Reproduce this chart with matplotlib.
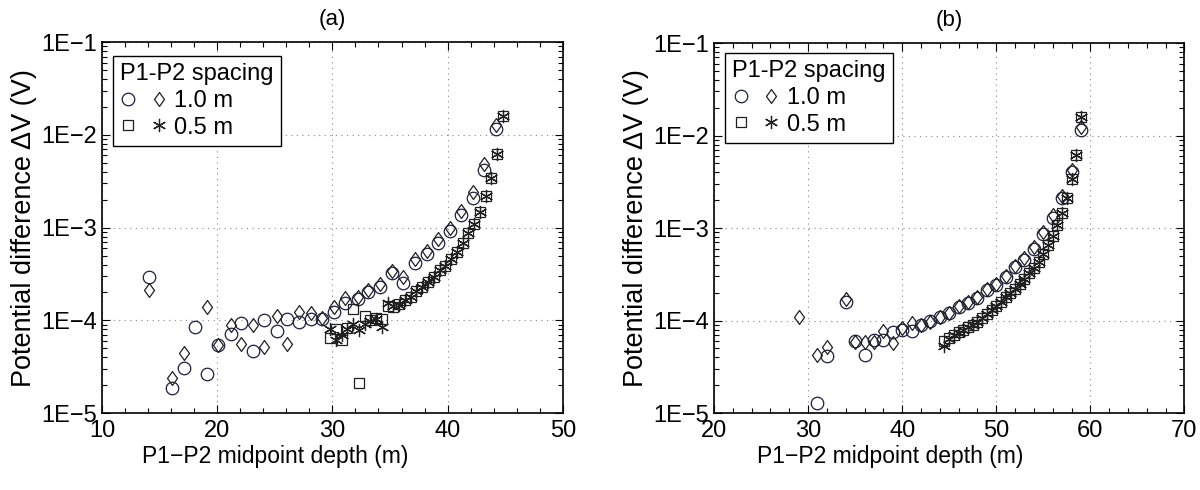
import matplotlib
matplotlib.use("Agg")
import matplotlib.pyplot as plt
from matplotlib.path import Path
from matplotlib.legend_handler import HandlerTuple
from matplotlib.ticker import MultipleLocator, LogLocator, FixedLocator, NullFormatter

plt.rcParams['font.family'] = ['Liberation Sans', 'DejaVu Sans']

# ---------------- (a) ----------------
a_x_circ = [14.1, 16.1, 17.1, 18.1, 19.1, 20.1, 21.2, 22.1, 23.1, 24.1, 25.2, 26.1, 27.1, 28.1, 29.1,
            30.1, 31.1, 32.2, 33.1, 34.1, 35.2, 36.1, 37.2, 38.2, 39.2, 40.2, 41.2, 42.2, 43.2, 44.2]
a_y_circ = [2.9e-4, 1.87e-5, 3.1e-5, 8.5e-5, 2.63e-5, 5.4e-5, 7.2e-5, 9.3e-5, 4.7e-5, 1.02e-4, 7.6e-5,
            1.04e-4, 9.6e-5, 1.03e-4, 1.03e-4, 1.24e-4, 1.55e-4, 1.7e-4, 2.0e-4, 2.3e-4, 3.2e-4, 2.54e-4,
            4.2e-4, 5.2e-4, 6.9e-4, 9.3e-4, 1.36e-3, 2.1e-3, 4.2e-3, 1.15e-2]
a_x_diam = [14.1, 16.1, 17.1, 19.1, 20.1, 21.2, 22.1, 23.1, 24.1, 25.2, 26.1, 27.1, 28.1, 29.1,
            30.1, 31.1, 32.2, 33.1, 34.1, 35.2, 36.1, 37.2, 38.2, 39.2, 40.2, 41.2, 42.2, 43.2, 44.2]
a_y_diam = [2.1e-4, 2.37e-5, 4.47e-5, 1.38e-4, 5.4e-5, 8.9e-5, 5.5e-5, 8.8e-5, 5.1e-5, 1.12e-4, 5.5e-5,
            1.23e-4, 1.2e-4, 1.05e-4, 1.38e-4, 1.74e-4, 1.8e-4, 2.1e-4, 2.45e-4, 3.4e-4, 2.95e-4,
            4.6e-4, 5.6e-4, 7.5e-4, 1.0e-3, 1.5e-3, 2.4e-3, 4.8e-3, 1.28e-2]
a_x_half = [29.8, 30.3, 30.8, 31.3, 31.8, 32.3, 32.8, 33.3, 33.8, 34.3,
            34.8, 35.3, 35.8, 36.3, 36.8, 37.3, 37.8, 38.3, 38.8, 39.3, 39.8,
            40.3, 40.8, 41.3, 41.8, 42.3, 42.8, 43.3, 43.8, 44.3, 44.8]
a_y_sq = [6.4e-5, 8.1e-5, 6.1e-5, 8.3e-5, 1.31e-4, 2.12e-5, 1.12e-4, 1.0e-4, 1.06e-4, 1.03e-4,
          1.42e-4, 1.40e-4, 1.5e-4, 1.66e-4, 1.8e-4, 2.05e-4, 2.3e-4, 2.6e-4, 2.95e-4, 3.5e-4, 3.9e-4,
          4.6e-4, 5.5e-4, 6.8e-4, 8.7e-4, 1.09e-3, 1.48e-3, 2.18e-3, 3.39e-3, 6.2e-3, 1.6e-2]
a_y_ast = [8.1e-5, 6.1e-5, 6.9e-5, 8.0e-5, 9.1e-5, 7.9e-5, 9.1e-5, 9.8e-5, 1.04e-4, 8.4e-5,
           1.55e-4, 1.42e-4, 1.48e-4, 1.66e-4, 1.8e-4, 2.05e-4, 2.3e-4, 2.6e-4, 2.95e-4, 3.5e-4, 3.9e-4,
           4.6e-4, 5.5e-4, 6.8e-4, 8.7e-4, 1.09e-3, 1.48e-3, 2.18e-3, 3.39e-3, 6.2e-3, 1.6e-2]

# ---------------- (b) ----------------
b_x_circ = [31, 32, 34, 35, 36, 37, 38, 39, 40, 41, 42, 43, 44, 45, 46, 47, 48, 49, 50,
            51, 52, 53, 54, 55, 56, 57, 58, 59]
b_y_circ = [1.3e-5, 4.1e-5, 1.6e-4, 6.0e-5, 4.2e-5, 6.1e-5, 6.1e-5, 7.6e-5, 7.9e-5, 7.8e-5,
            9.0e-5, 1.0e-4, 1.1e-4, 1.2e-4, 1.4e-4, 1.55e-4, 1.75e-4, 2.15e-4, 2.4e-4,
            2.95e-4, 3.8e-4, 4.5e-4, 6.0e-4, 8.7e-4, 1.3e-3, 2.1e-3, 4.0e-3, 1.15e-2]
b_x_diam = [29, 31, 32, 34, 35, 36, 37, 38, 39, 40, 41, 42, 43, 44, 45, 46, 47, 48, 49, 50,
            51, 52, 53, 54, 55, 56, 57, 58, 59]
b_y_diam = [1.1e-4, 4.2e-5, 5.2e-5, 1.73e-4, 5.8e-5, 5.8e-5, 5.8e-5, 7.8e-5, 5.7e-5, 8.4e-5,
            9.3e-5, 9.0e-5, 9.7e-5, 1.08e-4, 1.22e-4, 1.42e-4, 1.58e-4, 1.8e-4, 2.2e-4, 2.5e-4,
            3.05e-4, 3.9e-4, 4.7e-4, 6.3e-4, 9.0e-4, 1.4e-3, 2.2e-3, 4.3e-3, 1.25e-2]
b_x_half = [44.5, 45.0, 45.5, 46.0, 46.5, 47.0, 47.5, 48.0, 48.5, 49.0, 49.5, 50.0, 50.5, 51.0, 51.5,
            52.0, 52.5, 53.0, 53.5, 54.0, 54.5, 55.0, 55.5, 56.0, 56.5, 57.0, 57.5, 58.0, 58.5, 59.0]
b_y_sq = [6.0e-5, 6.5e-5, 7.0e-5, 7.5e-5, 8.0e-5, 8.5e-5, 9.0e-5, 9.6e-5, 1.07e-4, 1.18e-4, 1.3e-4,
          1.42e-4, 1.6e-4, 1.8e-4, 1.98e-4, 2.2e-4, 2.5e-4, 2.8e-4, 3.3e-4, 3.7e-4, 4.3e-4, 5.3e-4,
          6.6e-4, 8.3e-4, 1.08e-3, 1.45e-3, 2.1e-3, 3.4e-3, 6.1e-3, 1.6e-2]
b_y_ast = [5.3e-5, 6.4e-5, 7.0e-5, 7.4e-5, 8.0e-5, 8.5e-5, 9.0e-5, 9.6e-5, 1.07e-4, 1.18e-4, 1.3e-4,
           1.42e-4, 1.6e-4, 1.8e-4, 1.98e-4, 2.2e-4, 2.5e-4, 2.8e-4, 3.3e-4, 3.7e-4, 4.3e-4, 5.3e-4,
           6.6e-4, 8.3e-4, 1.08e-3, 1.45e-3, 2.1e-3, 3.4e-3, 6.1e-3, 1.6e-2]

y_ticks = [1e-5, 1e-4, 1e-3, 1e-2, 1e-1]
y_ticklabels = ['1E\u22125', '1E\u22124', '1E\u22123', '1E\u22122', '1E\u22121']

diamond = Path([(0, 1), (0.72, 0), (0, -1), (-0.72, 0), (0, 1)],
               [Path.MOVETO, Path.LINETO, Path.LINETO, Path.LINETO, Path.CLOSEPOLY])
asterisk = (6, 2, 0)

c_circ = '#1e1e40'
c_blk = '#202020'


def draw_panel(ax, xc, yc, xd, yd, xh, ysq, yast, xlim, title, leg_y):
    ax.plot(xc, yc, 'o', ms=9, mfc='none', mec=c_circ, mew=0.9, ls='none')
    ax.plot(xd, yd, marker=diamond, ms=10, mfc='none', mec=c_blk, mew=0.9, ls='none')
    ax.plot(xh, ysq, 's', ms=7.5, mfc='none', mec=c_blk, mew=0.9, ls='none')
    ax.plot(xh, yast, marker=asterisk, ms=9.5, mec=c_blk, mew=0.9, ls='none')
    ax.set_yscale('log')
    ax.set_xlim(xlim)
    ax.set_ylim(1e-5, 1e-1)
    ax.xaxis.set_major_locator(MultipleLocator(10))
    ax.xaxis.set_minor_locator(MultipleLocator(2))
    ax.yaxis.set_major_locator(FixedLocator(y_ticks))
    ax.yaxis.set_minor_locator(LogLocator(base=10, subs=range(2, 10), numticks=20))
    ax.yaxis.set_minor_formatter(NullFormatter())
    ax.set_yticks(y_ticks)
    ax.set_yticklabels(y_ticklabels)
    ax.tick_params(which='both', direction='in', top=True, right=True, labelsize=17)
    ax.tick_params(which='major', length=6, width=0.8)
    ax.tick_params(axis='x', which='major', pad=5)
    ax.tick_params(which='minor', length=3.5, width=0.8)
    ax.grid(True, which='major', ls=(0, (1, 4)), color='#888888', lw=0.8)
    for s in ax.spines.values():
        s.set_linewidth(1.2)
    ax.set_xlabel('P1\u2212P2 midpoint depth (m)', fontsize=16.5, labelpad=2)
    ax.xaxis.label.set_x(0.375)
    ax.set_ylabel('Potential difference \u0394V (V)', fontsize=19.5, labelpad=3)
    ax.set_title(title, fontsize=16, pad=12)

    h1 = ax.plot([], [], 'o', ms=9, mfc='none', mec=c_circ, mew=0.9, ls='none')[0]
    h2 = ax.plot([], [], marker=diamond, ms=10, mfc='none', mec=c_blk, mew=0.9, ls='none')[0]
    h3 = ax.plot([], [], 's', ms=7.5, mfc='none', mec=c_blk, mew=0.9, ls='none')[0]
    h4 = ax.plot([], [], marker=asterisk, ms=9.5, mec=c_blk, mew=0.9, ls='none')[0]
    leg = ax.legend([(h1, h2), (h3, h4)], ['1.0 m', '0.5 m'],
                    handler_map={tuple: HandlerTuple(ndivide=None, pad=0.6)},
                    title='P1-P2 spacing', loc='upper left', bbox_to_anchor=(0.024, leg_y),
                    fontsize=17, title_fontsize=17, frameon=True, fancybox=False,
                    edgecolor='black', framealpha=1, handlelength=2.0, handletextpad=0.3,
                    borderpad=0.3, labelspacing=0.2, borderaxespad=0.0)
    leg._legend_box.align = 'left'
    leg.get_frame().set_linewidth(1.0)


fig = plt.figure(figsize=(12, 4.9), dpi=100)
ax1 = fig.add_axes([0.085, 0.157, 0.384, 0.757])
ax2 = fig.add_axes([0.595, 0.157, 0.392, 0.755])

draw_panel(ax1, a_x_circ, a_y_circ, a_x_diam, a_y_diam, a_x_half, a_y_sq, a_y_ast, (10, 50), '(a)', 0.962)
draw_panel(ax2, b_x_circ, b_y_circ, b_x_diam, b_y_diam, b_x_half, b_y_sq, b_y_ast, (20, 70), '(b)', 0.973)

fig.savefig('out.png', dpi=100)
